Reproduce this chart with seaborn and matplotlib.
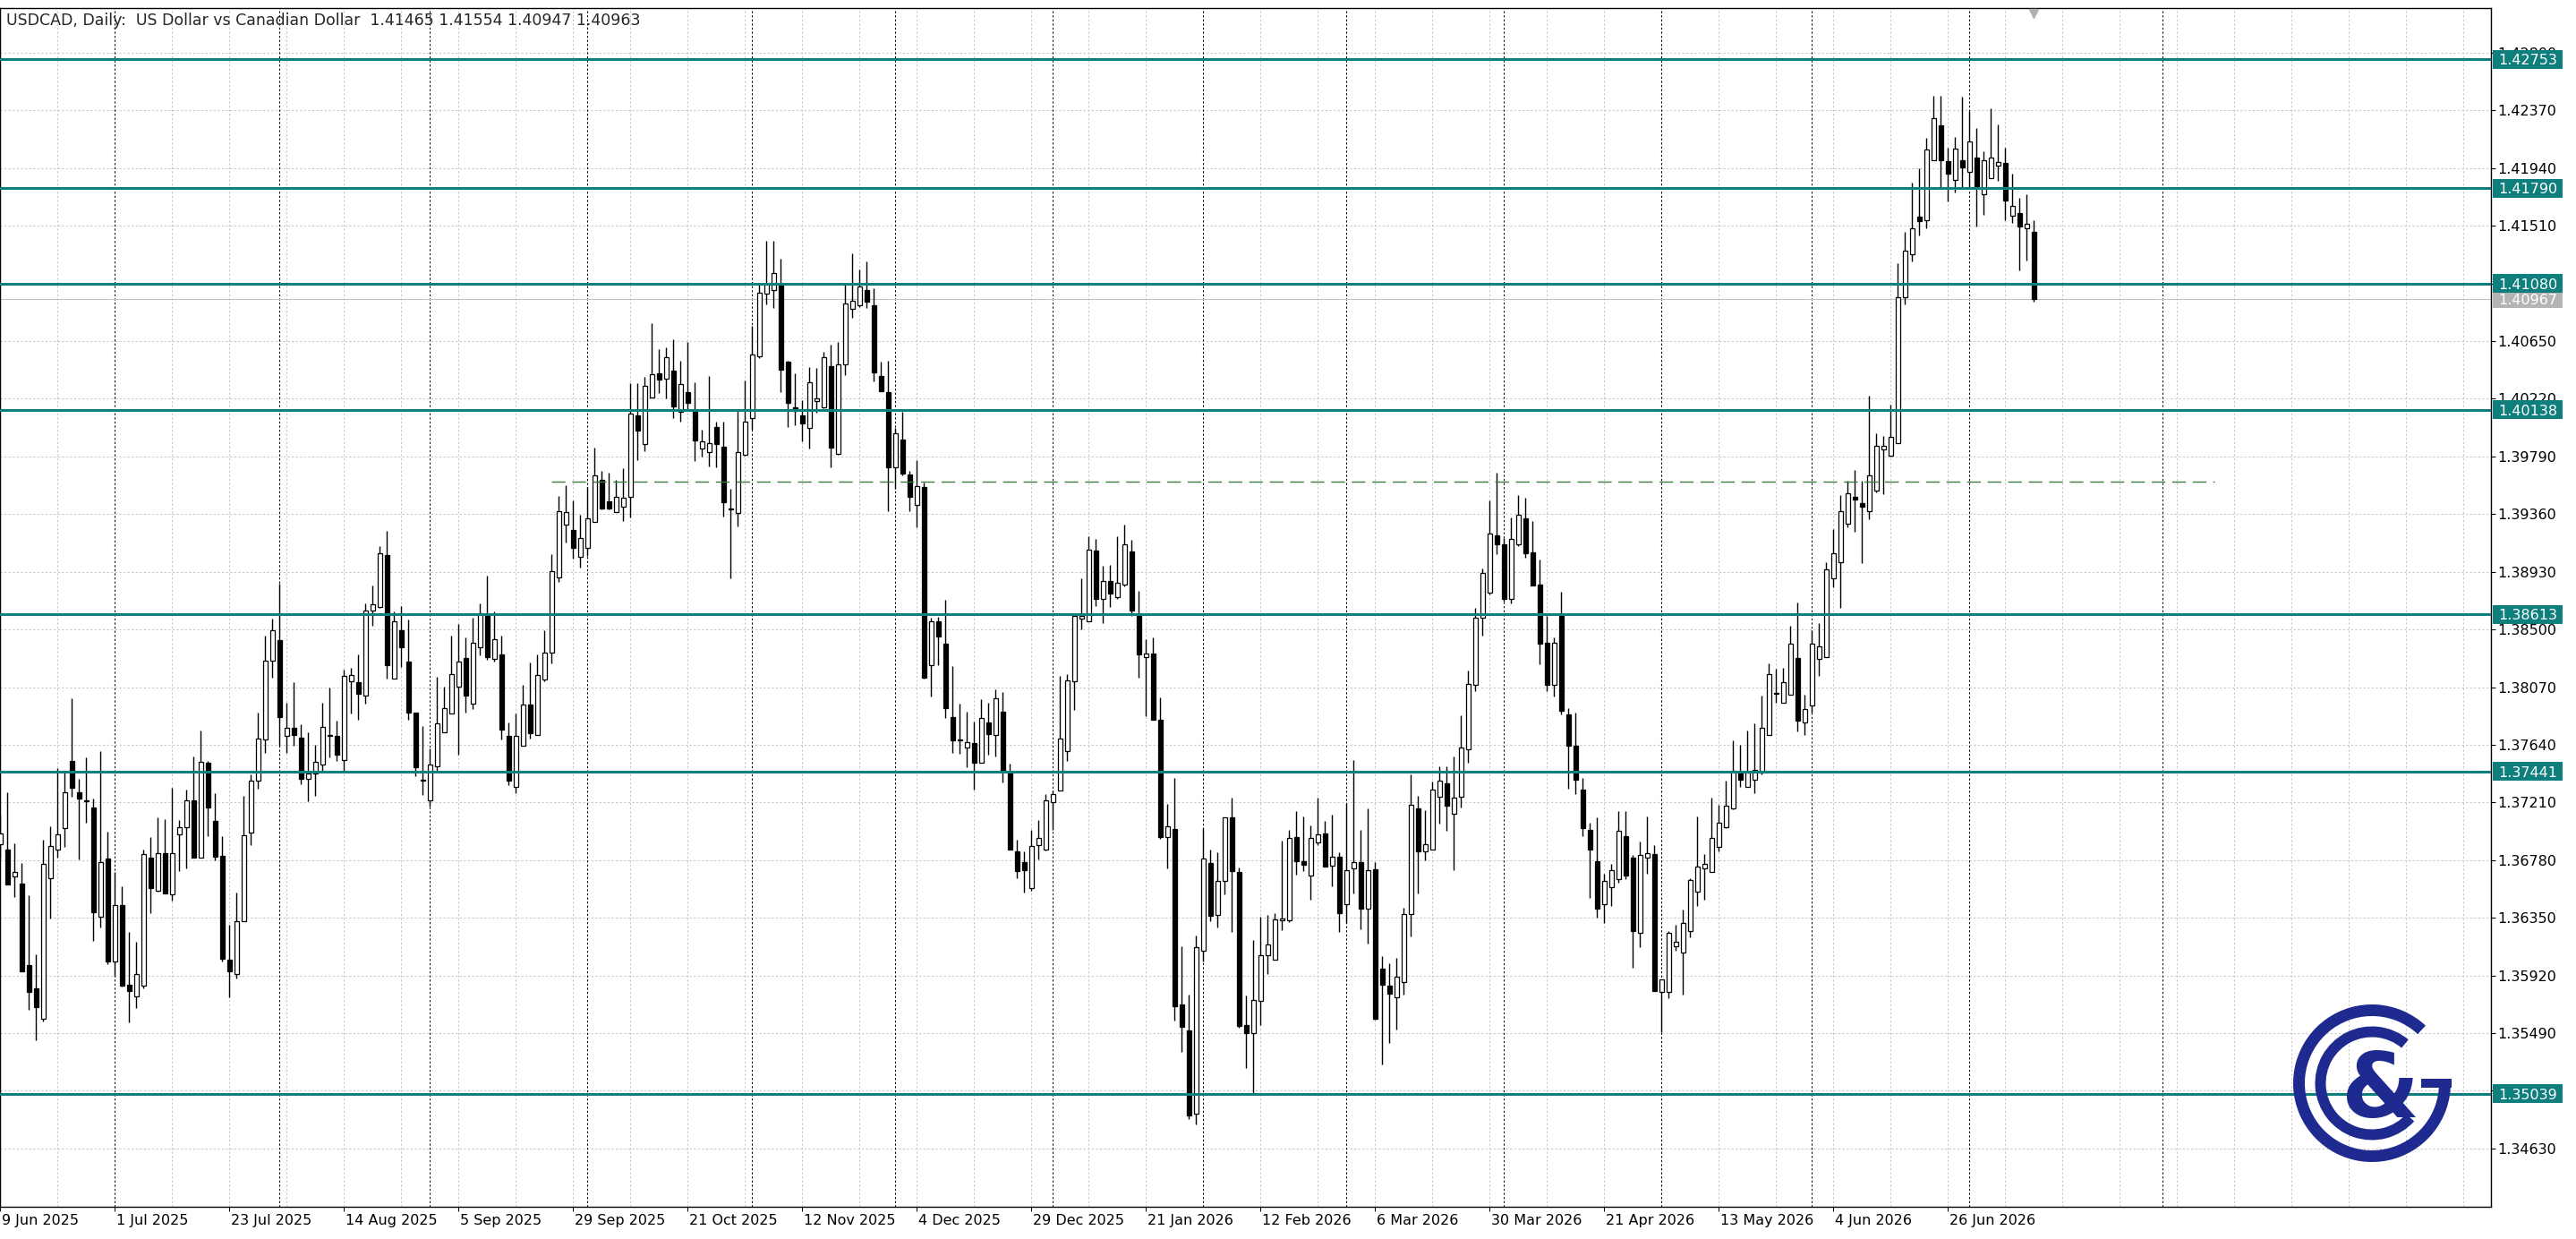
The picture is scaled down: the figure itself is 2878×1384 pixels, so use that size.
import matplotlib
matplotlib.use("Agg")
import matplotlib.pyplot as plt
import matplotlib.transforms as mtransforms
from matplotlib.patches import Rectangle, Wedge
import numpy as np
import pandas as pd
import seaborn as sns

# DATA (daily USDCAD candles)

opens = [
    1.36900, 1.36856, 1.36660, 1.36607, 1.35996, 1.35823, 1.35600, 1.36645, 1.36860, 1.37018,
    1.37522, 1.37289, 1.37228, 1.37174, 1.36356, 1.36789, 1.36023, 1.36445, 1.35849, 1.35767,
    1.35845, 1.36800, 1.36551, 1.36834, 1.36527, 1.36974, 1.37027, 1.37224, 1.36800, 1.37507,
    1.37071, 1.36811, 1.36040, 1.35934, 1.36323, 1.36985, 1.37374, 1.37678, 1.38267, 1.38422,
    1.37705, 1.37767, 1.37696, 1.37385, 1.37429, 1.37494, 1.37710, 1.37707, 1.37527, 1.38116,
    1.38109, 1.38006, 1.38639, 1.38668, 1.39056, 1.38132, 1.38494, 1.38263, 1.37883, 1.37380,
    1.37223, 1.37478, 1.37733, 1.37871, 1.38073, 1.38287, 1.37947, 1.38366, 1.38613, 1.38282,
    1.38311, 1.37709, 1.37323, 1.37633, 1.37937, 1.37716, 1.38128, 1.38330, 1.38889, 1.39282,
    1.39244, 1.39044, 1.39108, 1.39299, 1.39613, 1.39453, 1.39375, 1.39418, 1.39489, 1.40096,
    1.39882, 1.40232, 1.40410, 1.40370, 1.40429, 1.40120, 1.40270, 1.40139, 1.39850, 1.39826,
    1.40010, 1.39864, 1.39402, 1.39367, 1.39803, 1.40078, 1.40537, 1.41005, 1.41031, 1.41070,
    1.40498, 1.40158, 1.40094, 1.40003, 1.40204, 1.40158, 1.40466, 1.39811, 1.40479, 1.40892,
    1.40915, 1.41028, 1.40915, 1.40391, 1.40268, 1.39712, 1.39913, 1.39657, 1.39428, 1.39561,
    1.38232, 1.38559, 1.38397, 1.37844, 1.37670, 1.37618, 1.37650, 1.37505, 1.37806, 1.37715,
    1.37886, 1.37434, 1.36842, 1.36762, 1.36571, 1.36894, 1.36862, 1.37213, 1.37297, 1.37594,
    1.38116, 1.38583, 1.38562, 1.39089, 1.38726, 1.38860, 1.38741, 1.38836, 1.39080, 1.38607,
    1.38291, 1.38321, 1.37824, 1.36951, 1.37013, 1.35703, 1.35510, 1.34890, 1.36105, 1.36757,
    1.36373, 1.36623, 1.37100, 1.36692, 1.35551, 1.35492, 1.35730, 1.36072, 1.36037, 1.36329,
    1.36329, 1.36951, 1.36775, 1.36662, 1.36915, 1.36981, 1.36737, 1.36802, 1.36454, 1.36716,
    1.36767, 1.36418, 1.36713, 1.35971, 1.35843, 1.35754, 1.35870, 1.36378, 1.37165, 1.36848,
    1.36862, 1.37250, 1.37354, 1.37129, 1.37250, 1.37607, 1.38084, 1.38590, 1.38773, 1.39203,
    1.39138, 1.38731, 1.39138, 1.39327, 1.39074, 1.38838, 1.38399, 1.38084, 1.38599, 1.37865,
    1.37635, 1.37306, 1.37008, 1.36769, 1.36454, 1.36575, 1.36637, 1.36960, 1.36797, 1.36238,
    1.36797, 1.36825, 1.35794, 1.35794, 1.36140, 1.36094, 1.36252, 1.36544, 1.36721, 1.36693,
    1.36882, 1.37025, 1.37163, 1.37432, 1.37326, 1.37380, 1.37434, 1.37716, 1.38025, 1.37955,
    1.38014, 1.38286, 1.37806, 1.37932, 1.38280, 1.38296, 1.38883, 1.39002, 1.39291, 1.39489,
    1.39440, 1.39380, 1.39533, 1.39844, 1.39798, 1.39887, 1.40975, 1.41296, 1.41578, 1.41555,
    1.42002, 1.42258, 1.41992, 1.41853, 1.41999, 1.41909, 1.42016, 1.41744, 1.41866, 1.41959,
    1.41976, 1.41585, 1.41605, 1.41495, 1.41465,
]

highs = [
    1.37120, 1.37289, 1.36905, 1.36756, 1.36516, 1.36078, 1.36934, 1.37034, 1.37464, 1.37445,
    1.37985, 1.37385, 1.37549, 1.37240, 1.37596, 1.36994, 1.36689, 1.36585, 1.36247, 1.36172,
    1.36860, 1.36949, 1.37100, 1.37085, 1.37318, 1.37078, 1.37305, 1.37556, 1.37745, 1.37522,
    1.37278, 1.36956, 1.36296, 1.36540, 1.37256, 1.37422, 1.37882, 1.38456, 1.38578, 1.38840,
    1.37951, 1.38105, 1.37796, 1.37734, 1.37638, 1.37956, 1.38067, 1.37822, 1.38200, 1.38216,
    1.38311, 1.38692, 1.38830, 1.39120, 1.39234, 1.38632, 1.38675, 1.38573, 1.37883, 1.37783,
    1.37613, 1.38144, 1.38073, 1.38454, 1.38542, 1.38442, 1.38589, 1.38692, 1.38899, 1.38632,
    1.38454, 1.37804, 1.37871, 1.38090, 1.38251, 1.38311, 1.38497, 1.39065, 1.39494, 1.39579,
    1.39465, 1.39353, 1.39560, 1.39858, 1.39684, 1.39668, 1.39613, 1.39703, 1.40339, 1.40339,
    1.40382, 1.40786, 1.40591, 1.40603, 1.40667, 1.40501, 1.40643, 1.40346, 1.39990, 1.40391,
    1.40052, 1.40052, 1.39551, 1.40133, 1.40359, 1.40763, 1.41086, 1.41400, 1.41400, 1.41264,
    1.40504, 1.40407, 1.40213, 1.40456, 1.40450, 1.40569, 1.40624, 1.40643, 1.41070, 1.41303,
    1.41183, 1.41248, 1.41044, 1.40495, 1.40504, 1.40003, 1.40126, 1.39680, 1.39761, 1.39599,
    1.38591, 1.38597, 1.38720, 1.38226, 1.37945, 1.37886, 1.37812, 1.37983, 1.37951, 1.38054,
    1.38032, 1.37499, 1.36933, 1.36842, 1.37004, 1.37078, 1.37272, 1.37300, 1.38151, 1.38166,
    1.38604, 1.38881, 1.39193, 1.39173, 1.38976, 1.38979, 1.39193, 1.39283, 1.39170, 1.38785,
    1.38428, 1.38443, 1.37993, 1.37198, 1.37392, 1.36141, 1.35775, 1.36221, 1.37020, 1.36862,
    1.36841, 1.37100, 1.37249, 1.36728, 1.35769, 1.36186, 1.36358, 1.36373, 1.36385, 1.36924,
    1.37005, 1.37148, 1.37103, 1.37040, 1.37249, 1.37070, 1.37118, 1.36841, 1.37204, 1.37526,
    1.37005, 1.37163, 1.36767, 1.36067, 1.36013, 1.36052, 1.36426, 1.37418, 1.37261, 1.37151,
    1.37368, 1.37480, 1.37480, 1.37550, 1.37860, 1.38197, 1.38661, 1.38956, 1.39462, 1.39672,
    1.39181, 1.39335, 1.39504, 1.39481, 1.39307, 1.39020, 1.38604, 1.38444, 1.38782, 1.37916,
    1.37882, 1.37396, 1.37059, 1.37101, 1.36679, 1.36755, 1.37143, 1.37143, 1.36820, 1.36918,
    1.37109, 1.36890, 1.35892, 1.36252, 1.36300, 1.36412, 1.36645, 1.37106, 1.36825, 1.37247,
    1.37194, 1.37373, 1.37671, 1.37640, 1.37747, 1.37800, 1.38004, 1.38246, 1.38207, 1.38213,
    1.38528, 1.38704, 1.38014, 1.38495, 1.38545, 1.38999, 1.39251, 1.39499, 1.39606, 1.39688,
    1.39606, 1.40242, 1.39964, 1.39944, 1.40179, 1.41230, 1.41462, 1.41833, 1.41936, 1.42165,
    1.42480, 1.42480, 1.42092, 1.42175, 1.42473, 1.42364, 1.42241, 1.42065, 1.42383, 1.42264,
    1.42092, 1.41899, 1.41720, 1.41744, 1.41554,
]

lows = [
    1.36800, 1.36600, 1.36505, 1.35951, 1.35667, 1.35440, 1.35574, 1.36345, 1.36800, 1.36878,
    1.37251, 1.36783, 1.37056, 1.36178, 1.36278, 1.36005, 1.35918, 1.35840, 1.35567, 1.35674,
    1.35823, 1.36383, 1.36545, 1.36534, 1.36478, 1.36700, 1.36718, 1.36800, 1.36800, 1.36956,
    1.36778, 1.36023, 1.35756, 1.35900, 1.36323, 1.36894, 1.37311, 1.37578, 1.38138, 1.37634,
    1.37582, 1.37634, 1.37349, 1.37218, 1.37256, 1.37445, 1.37545, 1.37518, 1.37445, 1.37871,
    1.37828, 1.37947, 1.38525, 1.38661, 1.38137, 1.38132, 1.38220, 1.37828, 1.37407, 1.37264,
    1.37180, 1.37442, 1.37733, 1.37871, 1.37566, 1.37883, 1.37906, 1.38306, 1.38275, 1.38263,
    1.37679, 1.37342, 1.37276, 1.37633, 1.37687, 1.37716, 1.38113, 1.38247, 1.38853, 1.39151,
    1.39025, 1.38961, 1.39049, 1.39299, 1.39394, 1.39394, 1.39375, 1.39311, 1.39334, 1.39763,
    1.39827, 1.40232, 1.40263, 1.40220, 1.40077, 1.40048, 1.40132, 1.39756, 1.39790, 1.39719,
    1.39712, 1.39341, 1.38882, 1.39266, 1.39793, 1.39987, 1.40527, 1.40924, 1.40899, 1.40268,
    1.40010, 1.40020, 1.39900, 1.39848, 1.40117, 1.40149, 1.39706, 1.39803, 1.40398, 1.40821,
    1.40902, 1.40899, 1.40349, 1.40278, 1.39383, 1.39551, 1.39648, 1.39383, 1.39260, 1.38135,
    1.37999, 1.38235, 1.37838, 1.37579, 1.37573, 1.37476, 1.37305, 1.37505, 1.37563, 1.37553,
    1.37360, 1.36862, 1.36648, 1.36540, 1.36552, 1.36787, 1.36852, 1.37005, 1.37297, 1.37517,
    1.37898, 1.38503, 1.38562, 1.38672, 1.38547, 1.38666, 1.38726, 1.38821, 1.38598, 1.38142,
    1.37853, 1.37830, 1.36939, 1.36716, 1.35584, 1.35352, 1.34846, 1.34810, 1.36022, 1.36326,
    1.36281, 1.36522, 1.36245, 1.35531, 1.35233, 1.35039, 1.35551, 1.35933, 1.36037, 1.36260,
    1.36320, 1.36671, 1.36698, 1.36484, 1.36891, 1.36731, 1.36588, 1.36245, 1.36311, 1.36534,
    1.36266, 1.36156, 1.35590, 1.35254, 1.35420, 1.35520, 1.35780, 1.36210, 1.36533, 1.36778,
    1.36862, 1.37053, 1.37002, 1.36707, 1.37171, 1.37508, 1.38037, 1.38455, 1.38759, 1.39062,
    1.38708, 1.38697, 1.39124, 1.39034, 1.38829, 1.38239, 1.38042, 1.38000, 1.37868, 1.37312,
    1.37275, 1.36960, 1.36496, 1.36350, 1.36314, 1.36440, 1.36609, 1.36637, 1.35976, 1.36131,
    1.36679, 1.35802, 1.35499, 1.35752, 1.36103, 1.35780, 1.36207, 1.36440, 1.36488, 1.36693,
    1.36848, 1.37022, 1.37157, 1.37326, 1.37326, 1.37280, 1.37418, 1.37716, 1.37955, 1.37955,
    1.38014, 1.37743, 1.37710, 1.37882, 1.38154, 1.38296, 1.38817, 1.38661, 1.39264, 1.39231,
    1.38992, 1.39324, 1.39523, 1.39506, 1.39788, 1.39887, 1.40925, 1.41246, 1.41435, 1.41495,
    1.42002, 1.41793, 1.41694, 1.41760, 1.41793, 1.41793, 1.41505, 1.41595, 1.41866, 1.41843,
    1.41555, 1.41535, 1.41180, 1.41253, 1.40947,
]

closes = [
    1.36980, 1.36600, 1.36689, 1.35951, 1.35800, 1.35685, 1.36749, 1.36885, 1.36974, 1.37287,
    1.37318, 1.37238, 1.37220, 1.36394, 1.36767, 1.36023, 1.36445, 1.35845, 1.35807, 1.35934,
    1.36823, 1.36574, 1.36834, 1.36534, 1.36834, 1.37027, 1.37224, 1.36800, 1.37516, 1.37174,
    1.36805, 1.36045, 1.35951, 1.36323, 1.36963, 1.37374, 1.37689, 1.38267, 1.38496, 1.37849,
    1.37767, 1.37711, 1.37385, 1.37429, 1.37511, 1.37774, 1.37705, 1.37567, 1.38156, 1.38163,
    1.38018, 1.38639, 1.38687, 1.39068, 1.38235, 1.38561, 1.38370, 1.37883, 1.37471, 1.37376,
    1.37490, 1.37799, 1.37914, 1.38168, 1.38263, 1.38009, 1.38399, 1.38620, 1.38294, 1.38430,
    1.37756, 1.37371, 1.37709, 1.37942, 1.37725, 1.38163, 1.38330, 1.38937, 1.39382, 1.39377,
    1.39108, 1.39180, 1.39330, 1.39648, 1.39401, 1.39401, 1.39489, 1.39482, 1.40108, 1.39984,
    1.40315, 1.40401, 1.40362, 1.40529, 1.40160, 1.40327, 1.40191, 1.39910, 1.39900, 1.39890,
    1.39884, 1.39447, 1.39396, 1.39826, 1.40052, 1.40553, 1.41012, 1.41076, 1.41157, 1.40440,
    1.40191, 1.40133, 1.40036, 1.40343, 1.40223, 1.40530, 1.39858, 1.40479, 1.40931, 1.40950,
    1.41060, 1.40947, 1.40414, 1.40278, 1.39712, 1.39965, 1.39664, 1.39486, 1.39567, 1.38138,
    1.38559, 1.38445, 1.37912, 1.37676, 1.37683, 1.37660, 1.37508, 1.37838, 1.37718, 1.37990,
    1.37444, 1.36862, 1.36700, 1.36707, 1.36885, 1.36943, 1.37224, 1.37273, 1.37684, 1.38121,
    1.38598, 1.38604, 1.39098, 1.38726, 1.38860, 1.38771, 1.38851, 1.39134, 1.38642, 1.38315,
    1.38324, 1.37830, 1.36951, 1.37034, 1.35688, 1.35536, 1.34875, 1.36132, 1.36790, 1.36364,
    1.36623, 1.37100, 1.36698, 1.35545, 1.35492, 1.35739, 1.36072, 1.36150, 1.36341, 1.36344,
    1.36945, 1.36775, 1.36746, 1.36945, 1.36975, 1.36731, 1.36802, 1.36388, 1.36707, 1.36767,
    1.36418, 1.36707, 1.35599, 1.35852, 1.35784, 1.35909, 1.36376, 1.37194, 1.36848, 1.36896,
    1.37303, 1.37373, 1.37185, 1.37247, 1.37621, 1.38093, 1.38585, 1.38922, 1.39217, 1.39138,
    1.38725, 1.39172, 1.39358, 1.39068, 1.38829, 1.38394, 1.38084, 1.38402, 1.37896, 1.37635,
    1.37382, 1.37022, 1.36862, 1.36421, 1.36623, 1.36702, 1.37002, 1.36665, 1.36252, 1.36820,
    1.36834, 1.35802, 1.35892, 1.36235, 1.36173, 1.36314, 1.36631, 1.36735, 1.36755, 1.36946,
    1.37059, 1.37185, 1.37444, 1.37382, 1.37432, 1.37450, 1.37766, 1.38164, 1.38018, 1.38107,
    1.38396, 1.37822, 1.37908, 1.38396, 1.38372, 1.38949, 1.39069, 1.39380, 1.39513, 1.39466,
    1.39417, 1.39649, 1.39871, 1.39871, 1.39937, 1.40975, 1.41323, 1.41495, 1.41545, 1.42082,
    1.42314, 1.41999, 1.41900, 1.42085, 1.41943, 1.42141, 1.41800, 1.41999, 1.42019, 1.41986,
    1.41701, 1.41661, 1.41502, 1.41528, 1.40963,
]

date_labels = [
    "9 Jun 2025", "1 Jul 2025", "23 Jul 2025", "14 Aug 2025", "5 Sep 2025",
    "29 Sep 2025", "21 Oct 2025", "12 Nov 2025", "4 Dec 2025", "29 Dec 2025",
    "21 Jan 2026", "12 Feb 2026", "6 Mar 2026", "30 Mar 2026", "21 Apr 2026",
    "13 May 2026", "4 Jun 2026", "26 Jun 2026",
]
label_step = 16  # bars between date labels

# first bar of each month (period separators)
month_starts = [16, 39, 60, 82, 105, 125, 147, 168, 188, 210, 232, 253, 275, 302]

price_ticks = [
    1.34630, 1.35060, 1.35490, 1.35920, 1.36350, 1.36780, 1.37210,
    1.37640, 1.38070, 1.38500, 1.38930, 1.39360, 1.39790, 1.40220,
    1.40650, 1.41080, 1.41510, 1.41940, 1.42370, 1.42800,
]

levels = [1.42753, 1.41790, 1.41080, 1.40138, 1.38613, 1.37441, 1.35039]
bid_price = 1.40967

dashed_level = 1.39600
dashed_from = 77
dashed_to = 309.25

title = "USDCAD, Daily:  US Dollar vs Canadian Dollar  1.41465 1.41554 1.40947 1.40963"

# STYLE

sns.set_style("white")
plt.rcParams["font.family"] = ["DejaVu Sans"]
plt.rcParams["axes.linewidth"] = 1.0

teal = "#0e7f7d"
navy = "#1f2a90"
font_size = 11.5

df = pd.DataFrame({
    "open": opens,
    "high": highs,
    "low": lows,
    "close": closes,
})
df["bar"] = np.arange(len(df))
df["up"] = df["close"] >= df["open"]

W, H = 2878, 1384
fig = plt.figure(figsize=(W / 100, H / 100), dpi=100)

ax_left, ax_right, ax_top, ax_bottom = 0, 2783, 9, 1348
ax = fig.add_axes([
    ax_left / W,
    1 - ax_bottom / H,
    (ax_right - ax_left) / W,
    (ax_bottom - ax_top) / H,
])

y_min, y_max = 1.34195, 1.43134
bar_px = 8
x_max = (ax_right - ax_left) / bar_px
ax.set_xlim(-0.05, x_max - 0.05)
ax.set_ylim(y_min, y_max)

# GRID

grid_kw = dict(color="#c8c8c8", lw=0.75, ls=(0, (2.2, 2.2)), zorder=0)

for b in range(0, int(x_max) + 1, 8):
    ax.axvline(b, **grid_kw)

for p in price_ticks:
    ax.axhline(p, **grid_kw)

for b in month_starts:
    ax.axvline(b, color="black", lw=0.75, ls=(0, (2.2, 2.2)), zorder=1)

# bid line
ax.axhline(bid_price, color="#c0c0c0", lw=0.75, zorder=2)

# CANDLES

ax.vlines(
    df["bar"],
    df["low"],
    df["high"],
    color="black",
    lw=1.0,
    zorder=3
)

body_low = df[["open", "close"]].min(axis=1)
body_h = (df["close"] - df["open"]).abs().clip(lower=0.00004)

ax.bar(
    df["bar"],
    body_h,
    bottom=body_low,
    width=0.55,
    color=np.where(df["up"], "white", "black"),
    edgecolor="black",
    linewidth=0.9,
    zorder=4
)

# LEVELS

for lv in levels:
    ax.axhline(lv, color=teal, lw=2.2, zorder=5)

ax.plot(
    [dashed_from, dashed_to],
    [dashed_level, dashed_level],
    color="#3f7a3f",
    lw=1.0,
    ls=(0, (11, 5.5)),
    zorder=5
)

# AXES / TICKS

for s in ax.spines.values():
    s.set_color("black")
    s.set_linewidth(1.0)

ax.yaxis.tick_right()
ax.set_yticks(price_ticks)
ax.set_yticklabels([f"{p:.5f}" for p in price_ticks])
ax.tick_params(
    axis="y", right=True, direction="out", length=3.5,
    width=0.75, pad=1.5, labelsize=font_size, colors="black"
)

ax.set_xticks(np.arange(len(date_labels)) * label_step)
ax.set_xticklabels(date_labels, ha="left")
ax.tick_params(
    axis="x", bottom=True, direction="out", length=3.5,
    width=0.75, pad=2, labelsize=font_size, colors="black"
)
shift = mtransforms.ScaledTranslation(2 / 100, 0, fig.dpi_scale_trans)
for lbl in ax.get_xticklabels():
    lbl.set_transform(lbl.get_transform() + shift)

# price label boxes on the right

trans = mtransforms.blended_transform_factory(ax.transAxes, ax.transData)
px_per_price = (ax_bottom - ax_top) / (y_max - y_min)
box_h = 21 / px_per_price
bx0 = (2785 - ax_left) / (ax_right - ax_left)
bx1 = (2863 - ax_left) / (ax_right - ax_left)


def price_box(price, fc, z):
    ax.add_patch(Rectangle(
        (bx0, price - box_h / 2), bx1 - bx0, box_h,
        transform=trans, fc=fc, ec="none", clip_on=False, zorder=z
    ))
    ax.text(
        (bx0 + bx1) / 2, price, f"{price:.5f}",
        transform=trans, color="white", ha="center", va="center_baseline",
        fontsize=font_size, clip_on=False, zorder=z + 0.1
    )


price_box(bid_price, "#b4b4b4", 10)
for lv in levels:
    price_box(lv, teal, 11)

# chart shift marker
ax.plot(
    [len(df) - 1], [y_max - 6 / px_per_price],
    marker="v", color="#b0b0b0", ms=7, clip_on=False, zorder=6
)

fig.text(7 / W, 1 - 23 / H, title, fontsize=12.5, ha="left", va="center")

# LOGO

lax = fig.add_axes([2550 / W, 1 - 1310 / H, 200 / W, 200 / H])
lax.set_xlim(-100, 100)
lax.set_ylim(-100, 100)
lax.axis("off")
lax.patch.set_alpha(0)

lax.add_patch(Wedge((0, 0), 88, 47, 360, width=13, fc=navy, ec="none"))
lax.add_patch(Rectangle((55, -4.5), 33.5, 10, fc=navy, ec="none"))
lax.add_patch(Wedge((0, 0), 63.5, 50, 318, width=12, fc=navy, ec="none"))
lax.text(
    10, -38, "&", fontsize=72, fontweight="bold", color=navy,
    ha="center", va="baseline", family="DejaVu Sans"
)

fig.savefig("out.png", dpi=100)
